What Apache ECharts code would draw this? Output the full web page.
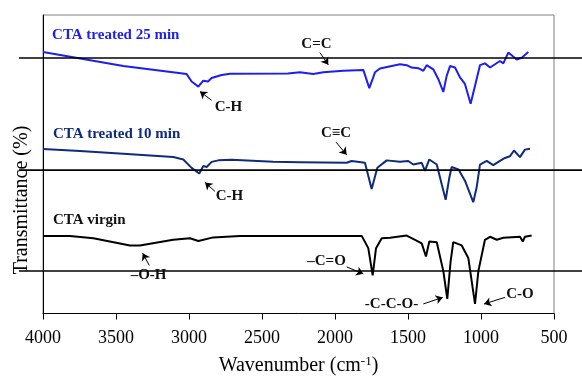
<!DOCTYPE html>
<html>
<head>
<meta charset="utf-8">
<script src="https://cdn.jsdelivr.net/npm/echarts@6/dist/echarts.min.js"></script>
<style>
  html, body { margin: 0; padding: 0; background: #fff; }
  #chart { width: 582px; height: 381px; }
</style>
</head>
<body>
<div id="chart"></div>
<script>
// FTIR spectra, wavenumber (cm-1) vs transmittance (arbitrary %, traces offset)
const wn25 = [4000, 3450, 3016, 2982, 2936, 2902, 2870, 2845, 2776, 2719, 2322, 2240, 2149, 2080, 1943, 1806, 1765, 1726, 1692, 1555, 1509, 1475, 1429, 1395, 1372, 1327, 1292, 1258, 1235, 1212, 1178, 1144, 1110, 1071, 1041, 1007, 973, 938, 904, 870, 847, 813, 790, 756, 721, 676];
const t25 = [87.6, 82.9, 80.2, 77.7, 76.0, 78.0, 77.7, 78.9, 79.9, 80.3, 80.4, 80.8, 80.2, 80.8, 81.3, 81.6, 75.5, 80.8, 82.1, 83.5, 83.2, 82.4, 82.2, 81.3, 83.2, 81.8, 78.5, 74.2, 79.6, 82.9, 82.4, 79.1, 76.9, 70.3, 76.3, 83.2, 83.8, 82.4, 83.5, 84.6, 83.8, 87.4, 86.5, 85.1, 85.7, 87.6];

const wn10 = [4000, 3747, 3450, 3108, 3039, 2982, 2930, 2902, 2879, 2845, 2799, 2708, 2423, 2240, 1920, 1886, 1795, 1749, 1710, 1646, 1555, 1498, 1464, 1406, 1384, 1354, 1303, 1269, 1242, 1217, 1201, 1155, 1110, 1053, 1030, 1007, 961, 916, 870, 836, 801, 774, 733, 699, 664];
const t10 = [55.1, 54.4, 53.5, 52.4, 51.6, 48.8, 46.9, 49.4, 49.1, 50.8, 51.3, 51.5, 50.8, 50.7, 50.5, 51.1, 50.5, 41.7, 48.8, 51.3, 50.8, 51.1, 49.9, 50.5, 47.8, 51.6, 49.9, 43.3, 38.1, 45.5, 49.1, 48.3, 44.5, 37.3, 42.2, 49.9, 51.1, 49.7, 51.1, 52.1, 52.7, 54.6, 52.4, 54.9, 55.2];

const wnVirgin = [4000, 3815, 3655, 3404, 3336, 3108, 2993, 2936, 2834, 2651, 2308, 1817, 1772, 1742, 1719, 1680, 1623, 1509, 1452, 1406, 1377, 1354, 1303, 1258, 1231, 1208, 1190, 1132, 1087, 1041, 1018, 973, 938, 892, 847, 733, 714, 699, 653];
const tVirgin = [26.0, 26.0, 25.2, 22.8, 22.8, 24.7, 25.2, 24.3, 25.5, 26.0, 26.0, 26.0, 21.9, 12.8, 21.9, 25.2, 25.4, 26.1, 24.7, 23.5, 19.1, 24.1, 23.9, 14.2, 4.9, 17.5, 23.9, 22.8, 18.6, 3.2, 14.2, 24.7, 25.7, 24.7, 25.4, 25.7, 24.1, 25.7, 26.1];

// reference (zero) lines of each offset trace
const baselines = [85.8, 48.8, 15.5];

// series names and where their labels sit [wavenumber, transmittance]
const seriesNames = ['CTA treated 25 min', 'CTA treated 10 min', 'CTA virgin'];
const namePos = [[3938, 93.1], [3932, 60.1], [3932, 31.4]];

// band assignments: text, text centre, arrow tail, arrow head
const noteText = ['C-H', 'C=C', 'C-H', 'C\u2261C', '\u2013O-H', '\u2013C=O', '-C-C-O-', 'C-O'];
const notePos = [[2730, 69.3], [2127, 90.3], [2723, 39.4], [1993, 60.4], [3277, 12.9], [2058, 17.5], [1613, 3.3], [733, 6.6]];
const arrowFrom = [[2845, 71.4], [2103, 87.4], [2822, 40.9], [1993, 57.4], [3272, 16.1], [1920, 15.6], [1395, 3.2], [836, 5.4]];
const arrowTo = [[2925, 74.4], [2046, 83.3], [2890, 43.9], [1920, 53.2], [3317, 20.2], [1806, 13.3], [1262, 5.4], [979, 3.2]];

const colors = ['#1e1eee', '#0f2c7c', '#000000'];
const FONT = '"Liberation Serif", "Times New Roman", serif';

const zip = (a, b) => a.map((v, i) => [v, b[i]]);
const traces = [zip(wn25, t25), zip(wn10, t10), zip(wnVirgin, tVirgin)];

const chart = echarts.init(document.getElementById('chart'));

const option = {
  animation: false,
  backgroundColor: '#fff',
  grid: [
    { left: 43, right: 28, top: 15, bottom: 63, show: true, borderColor: '#808080', borderWidth: 1 },
    // wider grid only for the reference lines, they run past the frame
    { left: 19, right: 0, top: 15, bottom: 63, show: false }
  ],
  xAxis: [
    {
      type: 'value', gridIndex: 0, inverse: true,
      min: 500, max: 4000, interval: 500,
      axisLine: { lineStyle: { color: '#000', width: 1 } },
      axisTick: { show: true, length: 6, lineStyle: { color: '#000' } },
      splitLine: { show: false },
      axisLabel: { fontFamily: FONT, fontSize: 18, color: '#000', margin: 16, formatter: v => String(v) },
      name: '{n|Wavenumber (cm}{s|-1}{n|)}',
      nameLocation: 'middle', nameGap: 42,
      nameTextStyle: {
        rich: {
          n: { fontFamily: FONT, fontSize: 20, color: '#000' },
          s: { fontFamily: FONT, fontSize: 13, color: '#000', verticalAlign: 'top', padding: [0, 0, 8, 0] }
        }
      }
    },
    { type: 'value', gridIndex: 1, min: 0, max: 1, show: false }
  ],
  yAxis: [
    {
      type: 'value', gridIndex: 0, min: 0, max: 100,
      axisLine: { show: true, lineStyle: { color: '#000', width: 1 } },
      axisTick: { show: false },
      axisLabel: { show: false },
      splitLine: { show: false }
    },
    { type: 'value', gridIndex: 1, min: 0, max: 100, show: false }
  ],
  series: [
    ...traces.map((d, i) => ({
      name: seriesNames[i],
      type: 'line',
      data: d,
      xAxisIndex: 0, yAxisIndex: 0,
      symbol: 'none',
      lineStyle: { color: colors[i], width: 2 },
      silent: true,
      z: 2
    })),
    ...baselines.map(b => ({
      type: 'line',
      data: [[0, b], [1, b]],
      xAxisIndex: 1, yAxisIndex: 1,
      symbol: 'none',
      lineStyle: { color: '#000', width: 1.6 },
      silent: true,
      z: 3
    })),
    {
      // arrows for the band labels
      type: 'line', data: [], xAxisIndex: 0, yAxisIndex: 0, silent: true, z: 4,
      markLine: {
        silent: true,
        symbol: ['none', 'arrow'],
        symbolSize: 7,
        label: { show: false },
        lineStyle: { color: '#000', width: 1, type: 'solid' },
        data: arrowFrom.map((p, i) => [{ coord: p }, { coord: arrowTo[i] }])
      }
    }
  ]
};

chart.setOption(option);

// text labels placed through the axes
const px = p => chart.convertToPixel({ gridIndex: 0 }, p);
const graphics = [];
seriesNames.forEach((s, i) => {
  const [x, y] = px(namePos[i]);
  graphics.push({
    type: 'text', x, y, z: 10,
    style: { text: s, fill: colors[i] === '#000000' ? '#111' : colors[i], font: 'bold 15px ' + FONT, textAlign: 'left', textVerticalAlign: 'middle' }
  });
});
noteText.forEach((t, i) => {
  const [x, y] = px(notePos[i]);
  graphics.push({
    type: 'text', x, y, z: 10,
    style: { text: t, fill: '#111', font: 'bold 15px ' + FONT, textAlign: 'center', textVerticalAlign: 'middle' }
  });
});
graphics.push({
  type: 'text', x: 22, y: 200, rotation: Math.PI / 2, z: 10,
  style: { text: 'Transmittance (%)', fill: '#000', font: '20px ' + FONT, textAlign: 'center', textVerticalAlign: 'middle' }
});
chart.setOption({ graphic: graphics });
</script>
</body>
</html>
